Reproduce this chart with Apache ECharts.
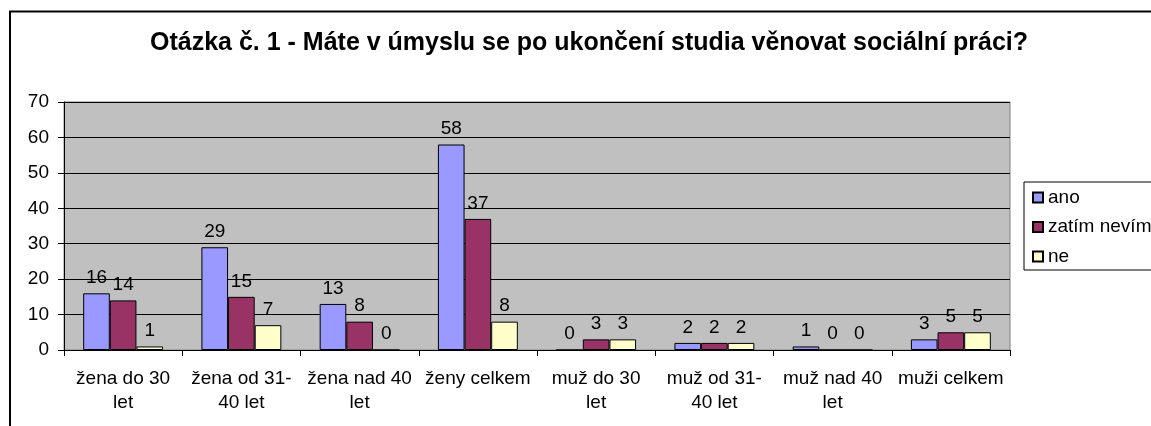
<!DOCTYPE html>
<html>
<head>
<meta charset="utf-8">
<script src="https://cdn.jsdelivr.net/npm/echarts@6/dist/echarts.min.js"></script>
<style>
  html, body { margin: 0; padding: 0; background: #fff; }
  #chart { width: 1151px; height: 426px; }
</style>
</head>
<body>
<div id="chart"></div>
<script>
// data
var categories = ['žena do 30\nlet', 'žena od 31-\n40 let', 'žena nad 40\nlet', 'ženy celkem',
                  'muž do 30\nlet', 'muž od 31-\n40 let', 'muž nad 40\nlet', 'muži celkem'];
var ano = [16, 29, 13, 58, 0, 2, 1, 3];
var zatimNevim = [14, 15, 8, 37, 3, 2, 0, 5];
var ne = [1, 7, 0, 8, 3, 2, 0, 5];
var yTicks = { min: 0, max: 70, interval: 10 };

var FONT = "'Liberation Sans', Arial, sans-serif";

function barSeries(name, data, color) {
  return {
    name: name,
    type: 'bar',
    data: data,
    barGap: '0%',
    barCategoryGap: '32.4%',
    itemStyle: { color: color, borderColor: '#000', borderWidth: 1 },
    label: {
      show: true,
      position: 'top',
      distance: 6,
      color: '#000',
      fontFamily: FONT,
      fontSize: 19
    }
  }
}

var chart = echarts.init(document.getElementById('chart'));
chart.setOption({
  animation: false,
  backgroundColor: '#fff',
  title: {
    text: 'Otázka č. 1 - Máte v úmyslu se po ukončení studia věnovat sociální práci?',
    left: 150,
    top: 31,
    padding: 0,
    textStyle: { fontFamily: FONT, fontSize: 25, fontWeight: 'bold', color: '#000' }
  },
  graphic: [{
    type: 'rect',
    shape: { x: 10, y: 11.5, width: 1200, height: 500 },
    style: { fill: 'none', stroke: '#000', lineWidth: 2 },
    silent: true
  }],
  legend: {
    orient: 'vertical',
    left: 1024,
    top: 182,
    padding: [6, 8, 4, 8],
    itemGap: 10.5,
    itemWidth: 10,
    itemHeight: 10,
    icon: 'rect',
    borderColor: '#000',
    borderWidth: 1,
    backgroundColor: '#fff',
    textStyle: { fontFamily: FONT, fontSize: 19, color: '#000', lineHeight: 19 }
  },
  grid: {
    left: 64, right: 141, top: 102, bottom: 76,
    show: true,
    backgroundColor: '#C0C0C0',
    borderColor: '#808080',
    borderWidth: 1
  },
  xAxis: {
    type: 'category',
    data: categories,
    axisLine: { lineStyle: { color: '#000' } },
    axisTick: { show: true, length: 6, lineStyle: { color: '#000' } },
    axisLabel: {
      interval: 0,
      margin: 17,
      color: '#000',
      fontFamily: FONT,
      fontSize: 19,
      lineHeight: 24
    }
  },
  yAxis: {
    type: 'value',
    min: yTicks.min,
    max: yTicks.max,
    interval: yTicks.interval,
    axisLine: { show: true, lineStyle: { color: '#000' } },
    axisTick: { show: true, length: 6, lineStyle: { color: '#000' } },
    axisLabel: { margin: 15, color: '#000', fontFamily: FONT, fontSize: 19 },
    splitLine: { lineStyle: { color: '#000', width: 1 } }
  },
  series: [
    barSeries('ano', ano, '#9999FF'),
    barSeries('zatím nevím', zatimNevim, '#993366'),
    barSeries('ne', ne, '#FFFFCC')
  ]
});
</script>
</body>
</html>
